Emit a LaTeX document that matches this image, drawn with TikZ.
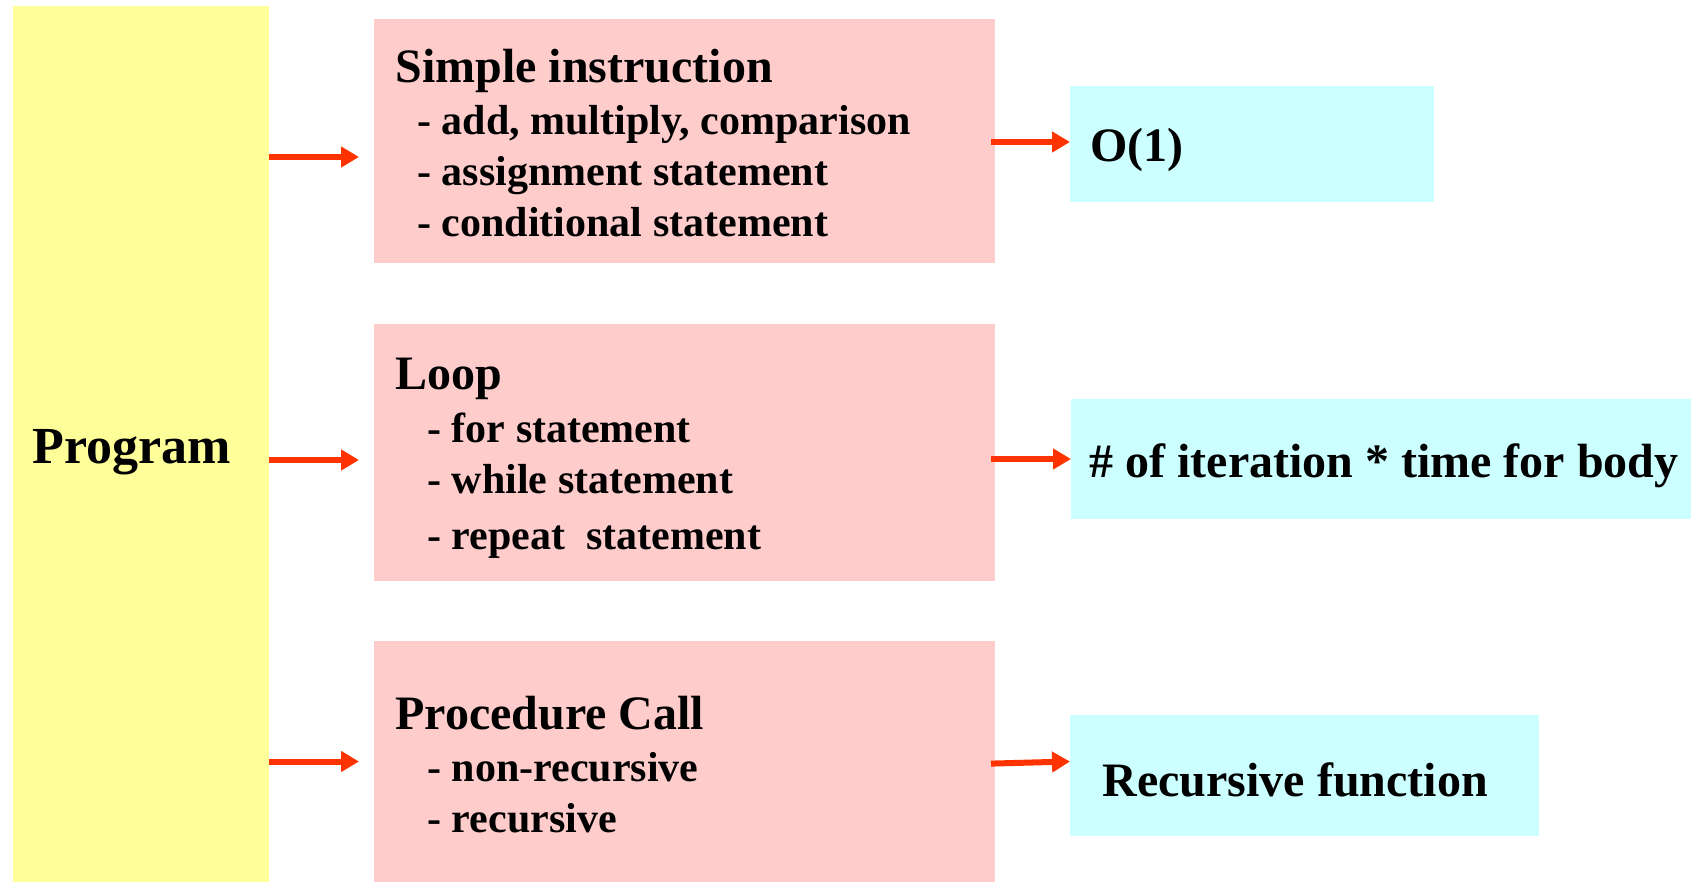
\documentclass[tikz,border=0pt]{standalone}
\usepackage{fontspec}
\setmainfont{Liberation Serif}
\usetikzlibrary{arrows.meta}

\definecolor{progyellow}{HTML}{FFFF99}
\definecolor{kindpink}{HTML}{FFCCCC}
\definecolor{costcyan}{HTML}{CCFFFF}
\definecolor{arrowred}{HTML}{FF3300}

\begin{document}
\begin{tikzpicture}[
        x=0.5pt, y=-0.5pt,
        box/.style = {rectangle, inner sep=0pt, outer sep=0pt,
                anchor=north west, fill=#1},% plain filled panels
        head/.style = {anchor=base west, inner sep=0pt,
                font=\fontsize{24}{28}\selectfont\bfseries},
        item/.style = {anchor=base west, inner sep=0pt,
                font=\fontsize{21}{25}\selectfont\bfseries},
        arr/.style = {draw=arrowred, line width=3pt,
                -{Triangle[length=9pt, width=10pt]}},
    ]
    \useasboundingbox (0,0) rectangle (1696,882);
    % panels
    \node[box=progyellow, minimum width=128pt, minimum height=438pt] (program) at (13,6) {};
    \node[box=kindpink, minimum width=310.5pt, minimum height=122pt] (simple) at (374,19) {};
    \node[box=kindpink, minimum width=310.5pt, minimum height=128.5pt] (loop) at (374,324) {};
    \node[box=kindpink, minimum width=310.5pt, minimum height=120.5pt] (call) at (374,641) {};
    \node[box=costcyan, minimum width=182pt, minimum height=58pt] (const) at (1070,86) {};
    \node[box=costcyan, minimum width=310pt, minimum height=60pt] (iter) at (1071,399) {};
    \node[box=costcyan, minimum width=234.5pt, minimum height=60.5pt] (recur) at (1070,715) {};

    % texts
    \node[anchor=base west, inner sep=0pt, font=\fontsize{26}{30}\selectfont\bfseries]
        (program-text) at (32,463) {Program};

    \node[head] (simple-head) at (395,83) {Simple instruction};
    \foreach \t [count=\i] in {{add, multiply, comparison},
            assignment statement, conditional statement}
    \node[item] (simple-\i) at (417,84+51*\i) {- \t};

    \node[head] (loop-head) at (395,389) {Loop};
    \node[item] (loop-1) at (427,442) {- for statement};
    \node[item] (loop-2) at (427,493) {- while statement};
    \node[item] (loop-3) at (427,549) {- repeat\ \ statement};

    \node[head] (call-head) at (395,729) {Procedure Call};
    \node[item] (call-1) at (427,781) {- non-recursive};
    \node[item] (call-2) at (427,832) {- recursive};

    \node[head] (const-text) at (1090,162) {O(1)};
    \node[head] (iter-text) at (1089,477) {\# of iteration * time for body};
    \node[head] (recur-text) at (1102,796) {Recursive function};

    % arrows
    \draw[arr, shorten >=7.5pt] ([yshift=-8pt]program.east |- simple.west) -- ([yshift=-8pt]simple.west);
    \draw[arr, shorten >=7.5pt] ([yshift=-3.75pt]program.east |- loop.west) -- ([yshift=-3.75pt]loop.west);
    \draw[arr, shorten >=7.5pt] (program.east |- call.west) -- (call.west);
    \draw[arr, shorten <=-2pt] ([yshift=1pt]simple.east |- const.west) -- ([yshift=1pt]const.west);
    \draw[arr, shorten <=-2pt] (loop.east |- iter.west) -- (iter.west);
    \draw[arr, shorten <=-2pt] ([yshift=-1pt]call.east) -- ([yshift=7pt]recur.west);
\end{tikzpicture}
\end{document}
